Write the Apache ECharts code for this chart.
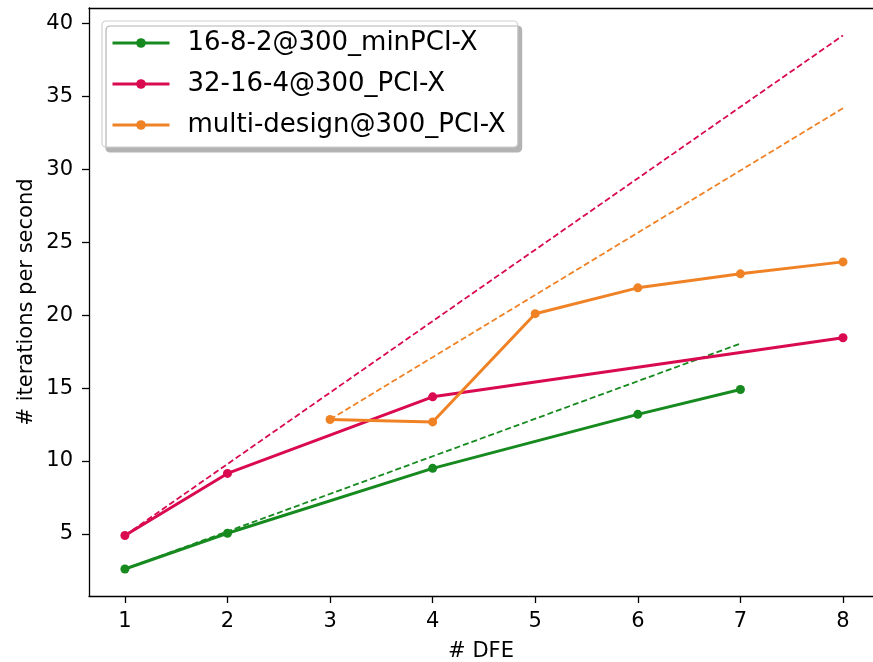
<!DOCTYPE html>
<html style="height: 100%">
<head>
    <title>DFE scaling</title>
    <meta charset="utf-8">
</head>
<body style="height: 100%; margin: 0; background: #fff">
<div id="container" style="height:662px;width:873px"></div>
<script src="https://cdn.jsdelivr.net/npm/echarts@6/dist/echarts.min.js"></script>
<script type="text/javascript">
    // measured data
    var names = ['16-8-2@300_minPCI-X', '32-16-4@300_PCI-X', 'multi-design@300_PCI-X'];
    var colors = ['#168a1f', '#d90a4f', '#f08226'];

    var dfeGreen = [1, 2, 4, 6, 7];
    var itGreen = [2.6, 5.05, 9.5, 13.2, 14.9];
    var dfeRed = [1, 2, 4, 8];
    var itRed = [4.9, 9.15, 14.4, 18.45];
    var dfeOrange = [3, 4, 5, 6, 7, 8];
    var itOrange = [12.85, 12.68, 20.1, 21.87, 22.83, 23.65];

    // dashed ideal lines (start and end)
    var idealGreenX = [1, 7];
    var idealGreenY = [2.6, 18.05];
    var idealRedX = [1, 8];
    var idealRedY = [4.9, 39.17];
    var idealOrangeX = [3, 8];
    var idealOrangeY = [12.85, 34.18];

    var xTicks = [1, 2, 3, 4, 5, 6, 7, 8];
    var yTicks = [5, 10, 15, 20, 25, 30, 35, 40];

    function pairs(xs, ys) {
        var out = [];
        for (var i = 0; i < xs.length; i++) out.push([xs[i], ys[i]]);
        return out;
    }

    var dom = document.getElementById("container");
    var myChart = echarts.init(dom, null, {renderer: 'canvas'});
    var font = 'DejaVu Sans';

    function solid(i, xs, ys) {
        return {
            name: names[i],
            type: 'line',
            data: pairs(xs, ys),
            symbol: 'circle',
            symbolSize: 9,
            color: colors[i],
            lineStyle: {width: 3, color: colors[i]},
            itemStyle: {color: colors[i]},
            z: 3
        };
    }

    function dashed(i, xs, ys) {
        return {
            name: 'ideal_' + i,
            type: 'line',
            data: pairs(xs, ys),
            showSymbol: false,
            symbol: 'none',
            lineStyle: {width: 1.8, type: [6, 3], color: colors[i]},
            z: 2
        };
    }

    var axisLineStyle = {color: '#000', width: 1.3};

    myChart.setOption({
        backgroundColor: '#fff',
        animation: false,
        grid: {left: 89, top: 8, right: 0, bottom: 66, outerBoundsMode: 'none', containLabel: false},
        legend: {
            data: names,
            orient: 'vertical',
            left: 102, top: 21,
            padding: [7, 12, 7, 9],
            itemWidth: 57, itemHeight: 12, itemGap: 11,
            lineStyle: {width: 3},
            backgroundColor: '#fff',
            borderColor: '#d0d0d0', borderWidth: 1.2, borderRadius: 4,
            shadowColor: '#b3b3b3', shadowBlur: 0, shadowOffsetX: 4, shadowOffsetY: 5,
            textStyle: {fontFamily: font, fontSize: 26, lineHeight: 30, color: '#000', padding: [0, 0, 0, 13]}
        },
        xAxis: [{
            type: 'value',
            min: 0.65, max: 8.2925,
            name: '# DFE',
            nameLocation: 'middle',
            nameGap: 45,
            nameTextStyle: {fontFamily: font, fontSize: 21, color: '#000'},
            splitLine: {show: false},
            axisLine: {show: true, onZero: false, lineStyle: axisLineStyle},
            axisTick: {show: true, length: 7, customValues: xTicks, lineStyle: axisLineStyle},
            axisLabel: {customValues: xTicks, fontFamily: font, fontSize: 21, color: '#000', margin: 15}
        }, {
            // top spine only
            type: 'value',
            position: 'top',
            min: 0.65, max: 8.2925,
            splitLine: {show: false},
            axisLine: {show: true, onZero: false, lineStyle: axisLineStyle},
            axisTick: {show: false},
            axisLabel: {show: false}
        }],
        yAxis: {
            type: 'value',
            min: 0.75, max: 41.05,
            name: '# iterations per second',
            nameLocation: 'middle',
            nameGap: 52,
            nameMoveOverlap: false,
            nameTextStyle: {fontFamily: font, fontSize: 21, color: '#000'},
            splitLine: {show: false},
            axisLine: {show: true, onZero: false, lineStyle: axisLineStyle},
            axisTick: {show: true, length: 7, customValues: yTicks, lineStyle: axisLineStyle},
            axisLabel: {customValues: yTicks, fontFamily: font, fontSize: 21, color: '#000', margin: 16}
        },
        series: [
            dashed(0, idealGreenX, idealGreenY),
            dashed(1, idealRedX, idealRedY),
            dashed(2, idealOrangeX, idealOrangeY),
            solid(0, dfeGreen, itGreen),
            solid(1, dfeRed, itRed),
            solid(2, dfeOrange, itOrange)
        ]
    });
</script>
</body>
</html>
